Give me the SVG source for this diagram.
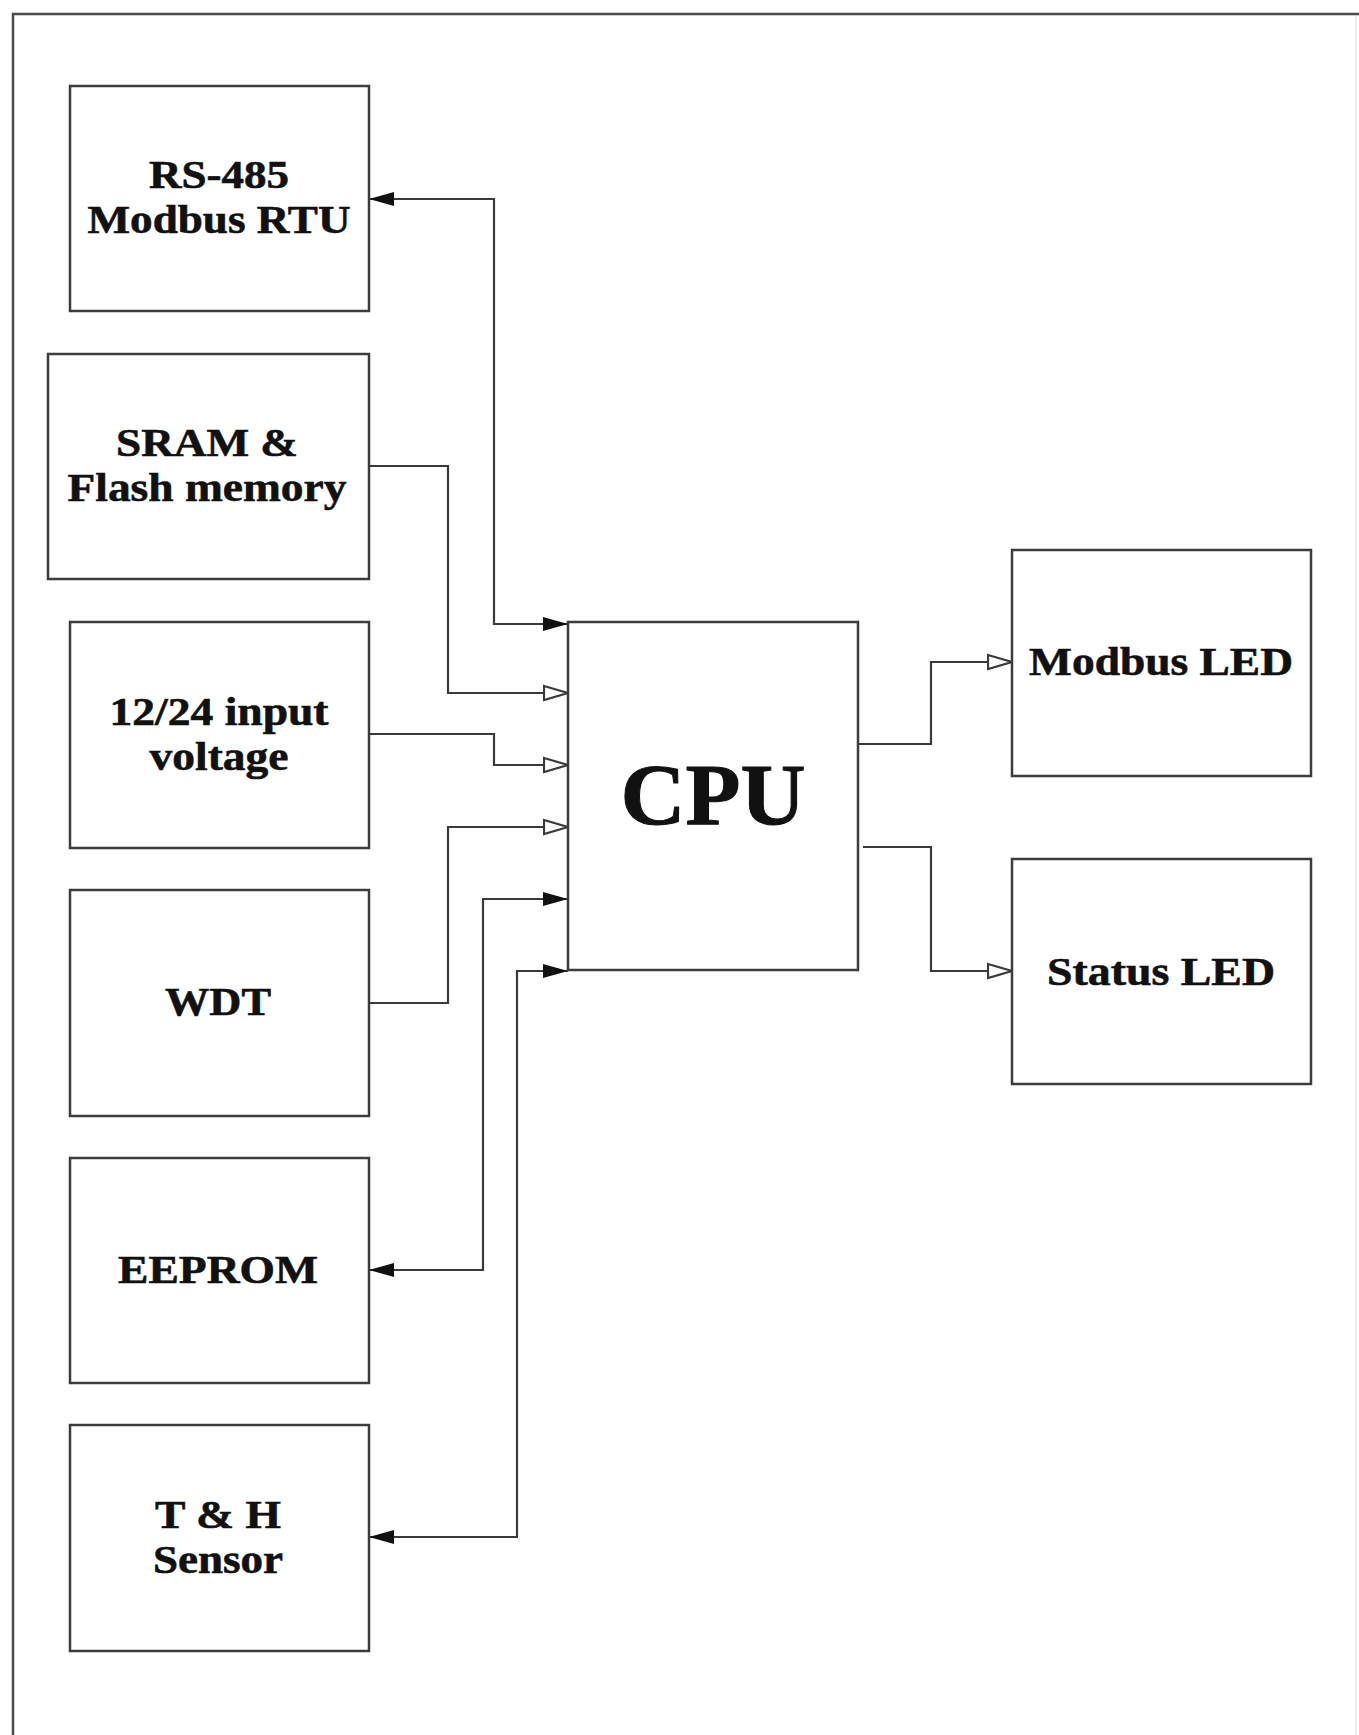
<svg xmlns="http://www.w3.org/2000/svg" width="1359" height="1735" viewBox="0 0 1359 1735">
  <style>
    .box { fill: #ffffff; stroke: #3c3c3c; stroke-width: 2.5; }
    .frame { fill: none; stroke: #4a4a4a; stroke-width: 2.5; }
    .wire { fill: none; stroke: #3a3a3a; stroke-width: 2.2; }
    .lbl { font-family: "Liberation Serif", "Times New Roman", serif; font-weight: bold; font-size: 41px; fill: #111111; stroke: #111111; stroke-width: 0.6; text-anchor: middle; }
    .big { font-size: 86px; stroke-width: 1; }
  </style>
  <defs>
    <marker id="fill" markerUnits="userSpaceOnUse" markerWidth="26" markerHeight="16" refX="25" refY="7" orient="auto-start-reverse" viewBox="0 0 26 14">
      <path d="M0,0 L25,7 L0,14 z" fill="#111111"/>
    </marker>
    <marker id="open" markerUnits="userSpaceOnUse" markerWidth="28" markerHeight="18" refX="25" refY="8" orient="auto" viewBox="0 0 28 16">
      <path d="M1,1 L25,8 L1,15 z" fill="#ffffff" stroke="#3a3a3a" stroke-width="2.2"/>
    </marker>
  </defs>
  <rect width="1359" height="1735" fill="#ffffff"/>
  <g id="frame">
    <path class="frame" d="M13,1735 L13,14 L1359,14"/>
    <line x1="1356" y1="16" x2="1356" y2="1735" stroke="#ececec" stroke-width="2"/>
  </g>
  <g id="connectors">
    <path class="wire" d="M568,624 L494,624 L494,199 L369,199" marker-start="url(#fill)" marker-end="url(#fill)"/>
    <path class="wire" d="M369,466 L448,466 L448,693 L568,693" marker-end="url(#open)"/>
    <path class="wire" d="M369,734 L494,734 L494,765 L568,765" marker-end="url(#open)"/>
    <path class="wire" d="M369,1003 L448,1003 L448,827 L568,827" marker-end="url(#open)"/>
    <path class="wire" d="M568,899 L483,899 L483,1270 L369,1270" marker-start="url(#fill)" marker-end="url(#fill)"/>
    <path class="wire" d="M568,971 L517,971 L517,1537 L369,1537" marker-start="url(#fill)" marker-end="url(#fill)"/>
    <path class="wire" d="M858,744 L931,744 L931,662 L1012,662" marker-end="url(#open)"/>
    <path class="wire" d="M863,847 L931,847 L931,971 L1012,971" marker-end="url(#open)"/>
  </g>
  <g id="rs485">
    <rect class="box" x="70" y="86" width="299" height="225"/>
    <text class="lbl" x="219" y="188" textLength="140" lengthAdjust="spacingAndGlyphs">RS-485</text>
    <text class="lbl" x="219" y="233" textLength="263" lengthAdjust="spacingAndGlyphs">Modbus RTU</text>
  </g>
  <g id="sram">
    <rect class="box" x="48" y="354" width="321" height="225"/>
    <text class="lbl" x="207" y="456" textLength="182" lengthAdjust="spacingAndGlyphs">SRAM &amp;</text>
    <text class="lbl" x="207" y="501" textLength="279" lengthAdjust="spacingAndGlyphs">Flash memory</text>
  </g>
  <g id="voltage">
    <rect class="box" x="70" y="622" width="299" height="226"/>
    <text class="lbl" x="219" y="725" textLength="219" lengthAdjust="spacingAndGlyphs">12/24 input</text>
    <text class="lbl" x="219" y="770" textLength="139" lengthAdjust="spacingAndGlyphs">voltage</text>
  </g>
  <g id="wdt">
    <rect class="box" x="70" y="890" width="299" height="226"/>
    <text class="lbl" x="218" y="1015" textLength="106" lengthAdjust="spacingAndGlyphs">WDT</text>
  </g>
  <g id="eeprom">
    <rect class="box" x="70" y="1158" width="299" height="225"/>
    <text class="lbl" x="218" y="1283" textLength="200" lengthAdjust="spacingAndGlyphs">EEPROM</text>
  </g>
  <g id="th-sensor">
    <rect class="box" x="70" y="1425" width="299" height="226"/>
    <text class="lbl" x="218" y="1528" textLength="126" lengthAdjust="spacingAndGlyphs">T &amp; H</text>
    <text class="lbl" x="218" y="1573" textLength="130" lengthAdjust="spacingAndGlyphs">Sensor</text>
  </g>
  <g id="cpu">
    <rect class="box" x="568" y="622" width="290" height="348"/>
    <text class="lbl big" x="713" y="824" textLength="185" lengthAdjust="spacingAndGlyphs">CPU</text>
  </g>
  <g id="modbus-led">
    <rect class="box" x="1012" y="550" width="299" height="226"/>
    <text class="lbl" x="1161" y="675" textLength="264" lengthAdjust="spacingAndGlyphs">Modbus LED</text>
  </g>
  <g id="status-led">
    <rect class="box" x="1012" y="859" width="299" height="225"/>
    <text class="lbl" x="1161" y="985" textLength="228" lengthAdjust="spacingAndGlyphs">Status LED</text>
  </g>
</svg>
